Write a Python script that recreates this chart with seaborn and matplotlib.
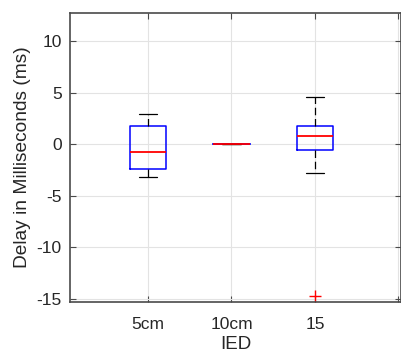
import numpy as np
import pandas as pd
import matplotlib
matplotlib.use("Agg")
import matplotlib.pyplot as plt
import seaborn as sns

# Delay measurements (ms) per inter-electrode distance group
categories = ["5cm", "10cm", "15"]
delay_5cm = [-3.2, -2.35, -0.74, 1.76, 2.9]
delay_10cm = [0.0, 0.0, 0.0, 0.0, 0.0]
delay_15 = [-14.7, -2.8, -0.59, -0.59, 0.78, 1.76, 1.76, 4.6, 4.6]
y_ticks = [-15, -10, -5, 0, 5, 10]

df = pd.DataFrame({
    "IED": [categories[0]] * len(delay_5cm)
    + [categories[1]] * len(delay_10cm)
    + [categories[2]] * len(delay_15),
    "delay": delay_5cm + delay_10cm + delay_15,
})

sns.set_style("white")
plt.rcParams["font.family"] = ["Liberation Sans", "DejaVu Sans"]

text_color = "#262626"
fig = plt.figure(figsize=(4.02, 3.53), dpi=100)
ax = fig.add_axes([70 / 402, 1 - 302 / 353, (401 - 70) / 402, (302 - 13) / 353])

sns.boxplot(
    data=df, x="IED", y="delay", order=categories, ax=ax,
    width=0.44, fill=False, whis=1.5,
    boxprops=dict(color="#0000ff", linewidth=1.1),
    medianprops=dict(color="#ff0000", linewidth=1.3, zorder=5),
    whiskerprops=dict(color="black", linewidth=0.9, linestyle=(0, (6, 3))),
    capprops=dict(color="black", linewidth=0.9),
    flierprops=dict(marker="+", markeredgecolor="#ff0000", markersize=8,
                    markeredgewidth=1.0),
)

ax.set_xlim(-0.934, 3.03)
ax.set_ylim(-15.3, 12.75)
ax.set_yticks(y_ticks)
ax.set_yticklabels([str(t) for t in y_ticks])
ax.set_xticks([0, 1, 2, 3])
ax.set_xticklabels(categories + [""])

ax.grid(True, color="#e3e3e3", linewidth=0.8)
ax.set_axisbelow(True)
for s in ax.spines.values():
    s.set_visible(True)
    s.set_color("#4a4a4a")
    s.set_linewidth(1.2)

ax.tick_params(axis="both", direction="in", length=4, width=0.8,
               colors="#4a4a4a", labelcolor=text_color, labelsize=12.5,
               top=True, right=True, left=True, bottom=True)
ax.tick_params(axis="x", pad=10.5)
ax.tick_params(axis="y", pad=6)

ax.set_xlabel("IED", fontsize=13.5, color=text_color, labelpad=3.5)
ax.set_ylabel("Delay in Milliseconds (ms)", fontsize=13.75, color=text_color,
              labelpad=4)

fig.savefig("out.png", dpi=100)
